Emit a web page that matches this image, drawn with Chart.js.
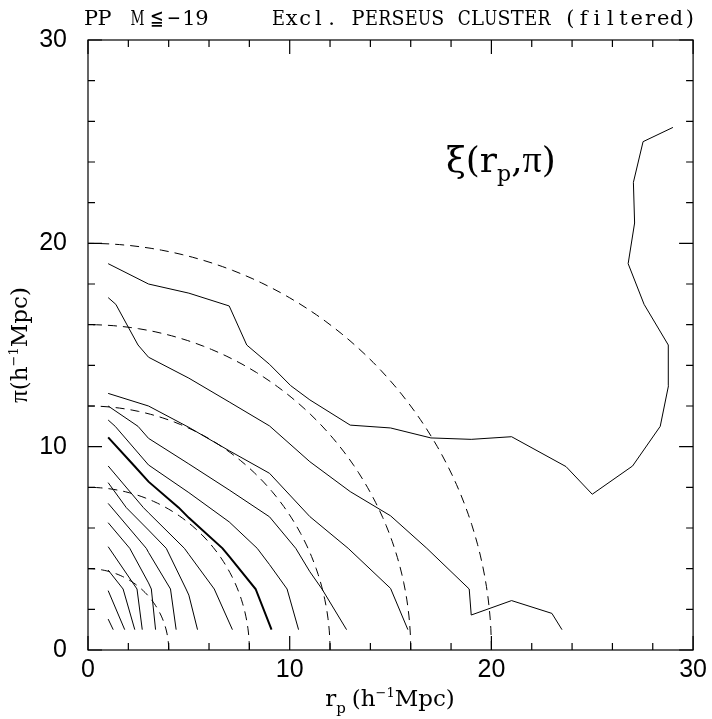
<!DOCTYPE html>
<html>
<head>
<meta charset="utf-8">
<script src="https://cdn.jsdelivr.net/npm/chart.js@4.4.0/dist/chart.umd.min.js"></script>
<style>
  html, body { margin: 0; padding: 0; background: #fff; }
  #wrap { width: 712px; height: 719px; }
</style>
</head>
<body>
<div id="wrap"><canvas id="myChart" width="712" height="719"></canvas></div>
<script>
// axis ticks
const tickLabels = [0, 10, 20, 30];
const minorStep = 2;

// dashed reference circles (radius in h^-1 Mpc)
const circleRadii = [4, 8, 12, 16, 20];

// contour lines of xi(rp, pi) as [rp, pi]
const xi1 = [[1,19],[3,18],[5,17.55],[7,16.92],[7.87,15],[9,14.05],[10.05,13],[11,12.3],[13,11.06],[15,10.92],[17,10.43],[19,10.36],[21,10.49],[23.7,9.02],[25,7.66],[27,9.05],[28.37,11],[28.78,13],[28.77,15],[27.57,17],[26.78,19],[27.1,21],[27.04,23],[27.52,25],[29,25.7]];
const xi2 = [[1,17.33],[1.38,17],[2.48,15],[3,14.4],[5,13.37],[7,12.2],[9,11.02],[11,9.26],[13,7.79],[15,6.6],[16.8,5],[18.9,3],[19,1.72],[21,2.43],[23,1.8],[23.5,1]];
const xi3 = [[1,12.62],[3,12.0],[5,10.95],[7,9.8],[9,8.69],[11,6.56],[12.9,5],[15,3.03],[15.86,1]];
const xi4 = [[1,12],[2.48,11],[3,10.41],[5,9.15],[7,7.87],[9,6.55],[10.3,5],[11,3.85],[11.6,3],[12.82,1]];
const xi5 = [[1,11.31],[1.35,11],[3,9.1],[5,7.74],[7,6.3],[8.39,5],[9,4.2],[9.87,3],[10.44,1]];
const xi6 = [[1,10.46],[2.3,9.05],[3,8.28],[4.5,7],[5,6.5],[6.67,5],[7,4.6],[8.31,3],[9.1,1]];
const xi7 = [[1,9.05],[2.75,7],[3,6.75],[4.78,5],[5,4.7],[6.26,3],[7.16,1]];
const xi8 = [[1,8.23],[1.9,7],[3,5.9],[3.88,5],[4.86,3],[5,2.7],[5.43,1]];
const xi9 = [[1,7.21],[2.89,5],[3,4.8],[4.09,3],[4.37,1]];
const xi10 = [[1,6.26],[2.07,5],[3,3.3],[3.14,3],[3.35,1]];
const xi11 = [[1,5.08],[2.43,3],[2.69,1]];
const xi12 = [[1,3.93],[1.74,3],[2.32,1]];
const xi13 = [[1,2.92],[1.82,1]];
const xi14 = [[1,1.52],[1.25,1]];

const contours = [xi1, xi2, xi3, xi4, xi5, xi6, xi7, xi8, xi9, xi10, xi11, xi12, xi13, xi14];
const thickContour = xi6;

const datasets = [];
contours.forEach(pts => {
  datasets.push({
    data: pts.map(p => ({x: p[0], y: p[1]})),
    borderColor: '#000',
    borderWidth: pts === thickContour ? 2 : 1,
    showLine: true,
    pointRadius: 0,
    fill: false
  });
});
circleRadii.forEach(r => {
  const arc = [];
  for (let a = 0; a <= 90; a += 1.5) {
    const t = a * Math.PI / 180;
    arc.push({x: r * Math.cos(t), y: r * Math.sin(t)});
  }
  datasets.push({
    data: arc,
    borderColor: '#000',
    borderWidth: 1,
    borderDash: [9, 6],
    showLine: true,
    pointRadius: 0,
    fill: false
  });
});

const serif = '"DejaVu Serif"';

// draw a run of text pieces with sub/superscripts
function richText(ctx, parts, x, y, align) {
  let w = 0;
  const font = p => p.size + 'px ' + (p.family || serif);
  parts.forEach(p => { ctx.font = font(p); p.w = ctx.measureText(p.t).width + (p.gap || 0); w += p.w; });
  let cx = align === 'center' ? x - w / 2 : x;
  ctx.textAlign = 'left';
  ctx.textBaseline = 'alphabetic';
  parts.forEach(p => {
    ctx.font = font(p);
    ctx.fillText(p.t, cx, y + (p.dy || 0));
    cx += p.w;
  });
}

const framePlugin = {
  id: 'frame',
  afterDraw(chart) {
    const {ctx, chartArea: a, scales: {x, y}} = chart;
    ctx.save();
    ctx.strokeStyle = '#000';
    ctx.fillStyle = '#000';
    ctx.lineWidth = 1.2;
    ctx.strokeRect(a.left, a.top, a.right - a.left, a.bottom - a.top);
    ctx.beginPath();
    for (let v = 0; v <= 30; v += minorStep) {
      const len = v % 10 === 0 ? 14 : 7;
      const px = x.getPixelForValue(v), py = y.getPixelForValue(v);
      ctx.moveTo(px, a.bottom); ctx.lineTo(px, a.bottom - len);
      ctx.moveTo(px, a.top); ctx.lineTo(px, a.top + len);
      ctx.moveTo(a.left, py); ctx.lineTo(a.left + len, py);
      ctx.moveTo(a.right, py); ctx.lineTo(a.right - len, py);
    }
    ctx.stroke();

    // title, typewriter style with serifs
    ctx.font = '21px "DejaVu Serif"';
    ctx.textAlign = 'center';
    ctx.textBaseline = 'alphabetic';
    const left = [['P', 91], ['P', 104.5], ['M', 137.5], ['≦', 157], ['−', 174], ['1', 189], ['9', 202]];
    left.forEach(c => ctx.fillText(c[0], c[1], 25, 14));
    const right = 'Excl. PERSEUS CLUSTER (filtered)';
    for (let i = 0; i < right.length; i++) {
      ctx.fillText(right[i], 278.5 + i * 13.27, 25, 13);
    }

    // xi label
    richText(ctx, [
      {t: 'ξ(r', size: 36},
      {t: 'p', size: 22, dy: 9},
      {t: ',', size: 36},
      {t: 'π', size: 38, family: '"Liberation Serif"'},
      {t: ')', size: 36}
    ], 446, 172, 'left');

    // x axis title
    richText(ctx, [
      {t: 'r', size: 23},
      {t: 'p', size: 15, dy: 7, gap: 6},
      {t: '(h', size: 23},
      {t: '−1', size: 13, dy: -9},
      {t: 'Mpc)', size: 23}
    ], 390, 706, 'center');

    // y axis title
    ctx.translate(27, 345);
    ctx.rotate(-Math.PI / 2);
    richText(ctx, [
      {t: 'π', size: 25, family: '"Liberation Serif"'},
      {t: '(h', size: 23},
      {t: '−1', size: 13, dy: -9},
      {t: 'Mpc)', size: 23}
    ], 0, 0, 'center');
    ctx.restore();
  }
};

new Chart(document.getElementById('myChart'), {
  type: 'scatter',
  data: { datasets: datasets },
  options: {
    responsive: false,
    animation: false,
    devicePixelRatio: 1,
    layout: { padding: { top: 40, right: 15, left: 0, bottom: 0 } },
    plugins: { legend: { display: false }, tooltip: { enabled: false } },
    scales: {
      x: {
        type: 'linear', min: 0, max: 30,
        afterFit: s => { s.height = 69; },
        afterBuildTicks: s => { s.ticks = tickLabels.map(v => ({value: v})); },
        grid: { display: false, drawTicks: false },
        border: { display: false },
        ticks: { padding: 5, color: '#000', font: { family: 'Liberation Sans', size: 25 }, maxRotation: 0 }
      },
      y: {
        type: 'linear', min: 0, max: 30,
        afterFit: s => { s.width = 88; },
        afterBuildTicks: s => { s.ticks = tickLabels.map(v => ({value: v})); },
        grid: { display: false, drawTicks: false },
        border: { display: false },
        ticks: { padding: 21, color: '#000', font: { family: 'Liberation Sans', size: 25 } }
      }
    }
  },
  plugins: [framePlugin]
});
</script>
</body>
</html>
